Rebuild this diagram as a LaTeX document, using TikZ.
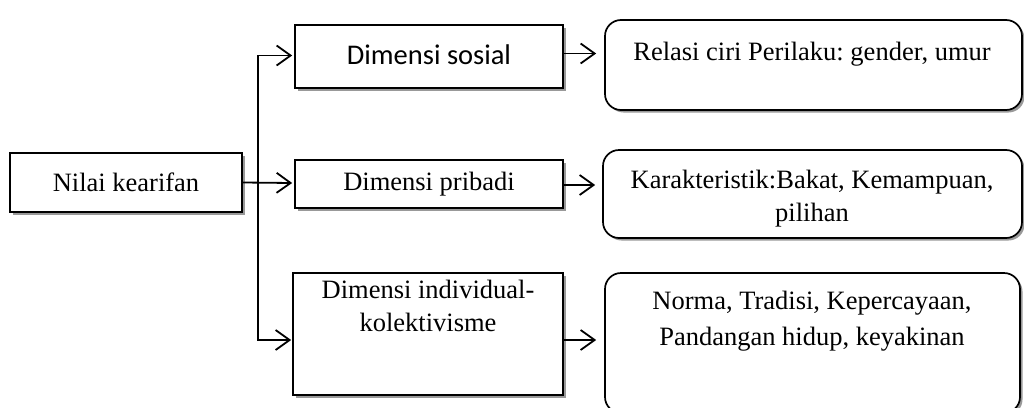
\documentclass[tikz,border=0pt]{standalone}
\usepackage{fontspec}
\setmainfont{Liberation Serif}
\newfontfamily\calfont{Carlito}
\usetikzlibrary{arrows.meta,shadows,positioning}
\frenchspacing
\tikzset{
  shad/.style={drop shadow={shadow xshift=2.5pt,shadow yshift=-2.5pt,fill=black!40,opacity=1}},
  sqbox/.style={draw,line width=1.7pt,fill=white,shad,rectangle,inner sep=0pt},
  rbox/.style={draw,line width=1.7pt,fill=white,shad,rectangle,rounded corners=16pt,inner sep=0pt},
  txt/.style={font=\fontsize{26.5}{33}\selectfont,align=center,inner sep=0pt},
  arr/.style={line width=1.8pt,-{Straight Barb[length=14pt,width=20pt,line width=1.8pt]}},
}
\begin{document}
\begin{tikzpicture}[x=1pt,y=-1pt]
\useasboundingbox (0,0) rectangle (1024,407);
% left box
\node[sqbox,minimum width=232pt,minimum height=59pt,font=\fontsize{26.5}{33}\selectfont] (nilai) at (126,182.5) {Nilai kearifan};
% middle boxes
\node[sqbox,minimum width=268pt,minimum height=63pt] (sosial) at (429,56.5) {};
\node[txt,font=\calfont\fontsize{28.5}{33}\selectfont] (sosialt) at (429,55) {Dimensi sosial};
\node[sqbox,minimum width=268pt,minimum height=48pt,font=\fontsize{26.5}{33}\selectfont] (pribadi) at (429,184) {Dimensi pribadi};
\node[sqbox,minimum width=270pt,minimum height=122pt] (indiv) at (428,334) {};
\node[txt,anchor=north] (indivt) at (428,280) {Dimensi individual-\\kolektivisme};
% right boxes
\node[rbox,minimum width=417pt,minimum height=90pt] (relasi) at (813.5,65) {};
\node[txt,anchor=north] (relasit) at (812,42) {\frenchspacing Relasi ciri Perilaku: gender, umur};
\node[rbox,minimum width=419pt,minimum height=88pt] (karak) at (812.5,194) {};
\node[txt] (karakt) at (812,199) {Karakteristik:Bakat, Kemampuan,\\pilihan};
\node[rbox,minimum width=415pt,minimum height=140pt] (norma) at (812.5,343) {};
\node[txt,anchor=north,font=\fontsize{26.5}{36}\selectfont] (normat) at (812,291) {Norma, Tradisi, Kepercayaan,\\Pandangan hidup, keyakinan};
% connectors
\coordinate (j) at (258,183);
\draw[arr] (nilai.east) -- ([xshift=-2pt]pribadi.west |- j);
\draw[arr] (j) |- ([xshift=-2pt,yshift=1pt]sosial.west);
\draw[arr] (j) |- ([xshift=-1pt,yshift=-6pt]indiv.west);
\draw[arr] ([yshift=3pt]sosial.east) -- ([xshift=-8pt,yshift=3pt]sosial.east -| relasi.west);
\draw[arr] (pribadi.east |- 0,185) -- ([xshift=-7pt]karak.west |- 0,185);
\draw[arr] ([yshift=-6pt]indiv.east) -- ([xshift=-8pt,yshift=-6pt]indiv.east -| norma.west);
\end{tikzpicture}
\end{document}
